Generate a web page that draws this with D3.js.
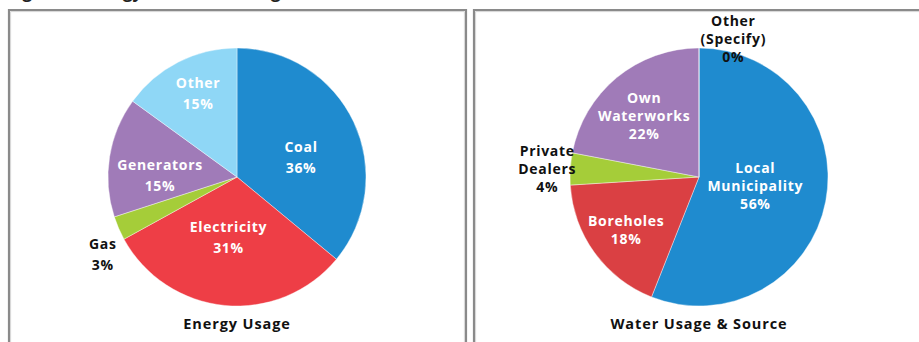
<!DOCTYPE html>
<html>
<head>
<meta charset="utf-8">
<script src="https://cdn.jsdelivr.net/npm/d3@7"></script>
<style>
  body { margin: 0; background: #fff; }
  svg { display: block; font-family: "Open Sans", sans-serif; }
</style>
</head>
<body>
<svg width="919" height="342"></svg>
<script>
  // energy usage
  var energyLabels = [["Coal"], ["Electricity"], ["Gas"], ["Generators"], ["Other"]];
  var energyValues = [36, 31, 3, 15, 15];
  var energyColors = ["#1f8bcf", "#ee3e46", "#a5cd39", "#a07bb8", "#8fd7f6"];
  var energyInside = [true, true, false, true, true];

  // water usage & source
  var waterLabels = [["Local", "Municipality"], ["Boreholes"], ["Private", "Dealers"], ["Own", "Waterworks"], ["Other", "(Specify)"]];
  var waterValues = [56, 18, 4, 22, 0];
  var waterColors = ["#1f8bcf", "#da4043", "#a5cd39", "#a07bb8", "#8fd7f6"];
  var waterInside = [true, true, false, true, false];

  // label placement: [bearing in degrees, distance from centre]
  var energyLabelPos = [[73, 67], [188, 61], [240, 155], [271, 77], [335, 92]];
  var waterLabelPos = [[99, 57], [234, 90], [273, 152], [318, 82], [14, 142]];

  var svg = d3.select("svg"),
      width = +svg.attr("width"),
      height = +svg.attr("height"),
      radius = 129;

  // cut-off heading at the very top
  svg.append("text")
      .attr("x", 8)
      .attr("y", -2)
      .attr("font-size", "17px")
      .attr("font-weight", 700)
      .attr("fill", "#222")
      .text("Figure 9: Energy and Water Usage");

  // panel borders
  function panel(x0, x1, rightSide) {
    var p = d3.path();
    p.moveTo(x0, height + 5);
    p.lineTo(x0, 10);
    p.lineTo(x1, 10);
    if (rightSide) p.lineTo(x1, height + 5);
    svg.append("path").attr("d", p.toString())
        .attr("fill", "none").attr("stroke", "#8a8a8a").attr("stroke-width", 2.2);
    var q = d3.path();
    q.moveTo(x0 + 1.6, height + 5);
    q.lineTo(x0 + 1.6, 11.6);
    q.lineTo(rightSide ? x1 - 1.6 : x1, 11.6);
    if (rightSide) q.lineTo(x1 - 1.6, height + 5);
    svg.append("path").attr("d", q.toString())
        .attr("fill", "none").attr("stroke", "#d6d6d6").attr("stroke-width", 1);
  }
  panel(9, 466, true);
  panel(474, width + 5, false);

  var pie = d3.pie().sort(null).value(function(d) { return d; });
  var arc = d3.arc().innerRadius(0).outerRadius(radius);

  function drawPie(cx, cy, values, colors, labels, inside, labelPos, title, lineH) {
    var g = svg.append("g").attr("transform", "translate(" + cx + "," + cy + ")");
    var arcs = pie(values);

    g.selectAll("path")
      .data(arcs)
      .enter().append("path")
        .attr("d", arc)
        .attr("fill", function(d, i) { return colors[i]; })
        .attr("stroke", "#fff")
        .attr("stroke-width", 0.4);

    arcs.forEach(function(d, i) {
      var a = labelPos[i][0] * Math.PI / 180,
          r = labelPos[i][1],
          x = Math.sin(a) * r,
          y = -Math.cos(a) * r;
      var lines = labels[i].concat([values[i] + "%"]);
      var t = g.append("text")
          .attr("text-anchor", "middle")
          .attr("font-size", "14px")
          .attr("font-weight", 700)
          .attr("letter-spacing", "0.7px")
          .attr("fill", inside[i] ? "#fff" : "#111");
      lines.forEach(function(s, j) {
        t.append("tspan")
          .attr("x", x)
          .attr("y", y + (j - (lines.length - 1) / 2) * lineH + 5)
          .text(s);
      });
    });

    svg.append("text")
      .attr("x", cx)
      .attr("y", 329)
      .attr("text-anchor", "middle")
      .attr("font-size", "14.5px")
      .attr("font-weight", 700)
      .attr("letter-spacing", "0.9px")
      .attr("fill", "#111")
      .text(title);
  }

  drawPie(237, 177, energyValues, energyColors, energyLabels, energyInside, energyLabelPos, "Energy Usage", 21);
  drawPie(699, 177, waterValues, waterColors, waterLabels, waterInside, waterLabelPos, "Water Usage & Source", 18);
</script>
</body>
</html>
